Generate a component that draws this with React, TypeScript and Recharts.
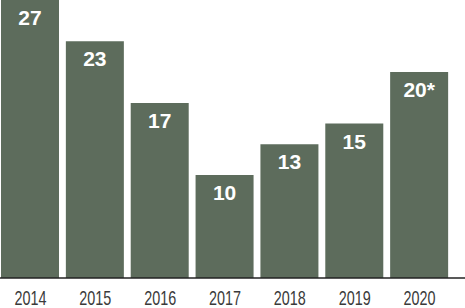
import React from "react";
import { BarChart, Bar, XAxis, YAxis, LabelList } from "recharts";

const years = ["2014", "2015", "2016", "2017", "2018", "2019", "2020"];
const counts = [27, 23, 17, 10, 13, 15, 20];
const barLabels = ["27", "23", "17", "10", "13", "15", "20*"];

const data = years.map((year, i) => ({ year, count: counts[i], label: barLabels[i] }));

const BAR_COLOR = "#5d6c5c";

// condensed year labels under the axis
function YearTick(props: any) {
  const { x, y, payload } = props;
  return (
    <text
      x={x}
      y={y + 25}
      textAnchor="middle"
      fill="#3a3a3a"
      fontSize={21}
      textLength={32}
      lengthAdjust="spacingAndGlyphs"
      fontFamily="'Liberation Sans Narrow', 'Liberation Sans', sans-serif"
    >
      {payload.value}
    </text>
  );
}

function ValueLabel(props: any) {
  const { x, y, width, value } = props;
  return (
    <text
      x={x + width / 2}
      y={y + 25}
      textAnchor="middle"
      fill="#ffffff"
      fontSize={21}
      fontWeight="bold"
      fontFamily="'Liberation Sans', Arial, sans-serif"
    >
      {value}
    </text>
  );
}

export default function App() {
  return (
    <div style={{ position: "absolute", left: 0, top: 0, width: 465, height: 308, background: "#fff" }}>
      <BarChart
        width={465}
        height={308}
        data={data}
        margin={{ top: 0, right: 0, left: -2, bottom: 0 }}
        barCategoryGap={0}
      >
        <XAxis
          dataKey="year"
          height={30}
          tickLine={false}
          tickSize={0}
          padding={{ left: 0, right: 13 }}
          axisLine={{ stroke: "#222", strokeWidth: 1.5 }}
          tick={<YearTick />}
          interval={0}
        />
        <YAxis hide domain={[0, 27]} />
        <Bar dataKey="count" fill={BAR_COLOR} barSize={58} isAnimationActive={false}>
          <LabelList dataKey="label" content={<ValueLabel />} />
        </Bar>
      </BarChart>
    </div>
  );
}
